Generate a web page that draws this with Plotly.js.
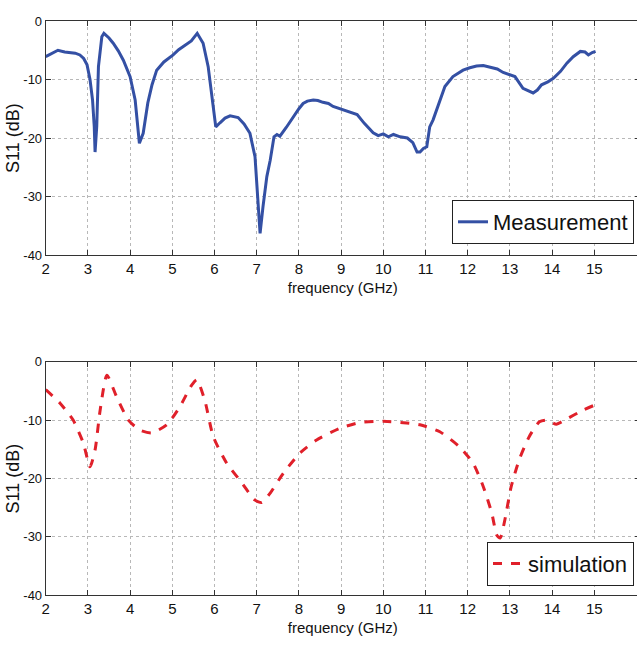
<!DOCTYPE html>
<html><head><meta charset="utf-8">
<script src="https://cdn.plot.ly/plotly-3.0.1.min.js"></script>
<style>html,body{margin:0;padding:0;overflow:hidden;background:#fff}</style>
</head><body><div id="chart" style="width:640px;height:645px"></div>
<script>
const measFreq = [2.0,2.15,2.29,2.45,2.58,2.7,2.81,2.9,2.98,3.05,3.11,3.15,3.17,3.19,3.21,3.25,3.33,3.38,3.5,3.6,3.72,3.84,4.0,4.12,4.22,4.31,4.42,4.52,4.63,4.8,5.02,5.15,5.3,5.45,5.59,5.73,5.85,5.97,6.03,6.13,6.25,6.37,6.47,6.56,6.7,6.84,6.96,7.03,7.08,7.15,7.24,7.32,7.41,7.48,7.55,7.7,7.86,8.0,8.1,8.2,8.34,8.45,8.57,8.7,8.81,9.0,9.14,9.25,9.38,9.55,9.76,9.88,10.0,10.12,10.24,10.4,10.57,10.7,10.8,10.87,10.95,11.03,11.1,11.18,11.34,11.46,11.65,11.89,12.05,12.21,12.37,12.53,12.7,12.84,13.0,13.12,13.31,13.45,13.55,13.65,13.75,13.9,14.03,14.2,14.35,14.5,14.67,14.78,14.86,14.95,15.03];
const measS11 = [-6.1,-5.6,-5.0,-5.3,-5.4,-5.5,-5.8,-6.4,-7.5,-10.0,-13.5,-18.0,-22.4,-20.5,-18.0,-7.8,-2.7,-2.1,-2.9,-3.8,-5.1,-6.7,-9.5,-13.5,-20.9,-19.2,-14.0,-10.9,-8.4,-7.0,-5.8,-4.9,-4.1,-3.4,-2.1,-3.8,-7.8,-15.2,-18.1,-17.4,-16.6,-16.2,-16.3,-16.5,-17.6,-19.2,-23.2,-30.6,-36.3,-31.7,-26.6,-23.8,-19.8,-19.4,-19.7,-18.2,-16.4,-15.0,-14.1,-13.7,-13.5,-13.6,-13.9,-14.1,-14.6,-15.1,-15.5,-15.7,-16.0,-17.5,-19.1,-19.6,-19.3,-19.8,-19.4,-19.8,-20.0,-20.8,-22.4,-22.4,-21.8,-21.5,-18.1,-16.9,-13.5,-11.2,-9.5,-8.4,-8.0,-7.7,-7.6,-7.9,-8.2,-8.8,-9.2,-9.5,-11.5,-12.0,-12.3,-11.8,-10.9,-10.4,-9.8,-8.6,-7.2,-6.1,-5.2,-5.3,-5.8,-5.4,-5.2];
const simFreq = [2.0,2.34,2.65,2.89,3.05,3.17,3.29,3.45,3.68,3.96,4.23,4.51,4.87,5.18,5.46,5.58,5.77,5.97,6.29,6.6,6.96,7.12,7.32,7.63,8.03,8.42,8.97,9.45,10.0,10.55,10.87,11.34,11.81,12.13,12.37,12.57,12.69,12.77,12.88,13.03,13.22,13.46,13.7,13.86,14.1,14.3,14.73,15.02];
const simS11 = [-4.8,-7.1,-10.0,-13.9,-18.0,-15.1,-8.3,-2.3,-6.0,-10.0,-11.7,-12.2,-10.8,-7.7,-4.0,-3.1,-6.6,-12.8,-17.4,-20.3,-23.7,-24.1,-22.5,-19.1,-15.6,-13.4,-11.4,-10.4,-10.2,-10.5,-10.8,-12.0,-14.6,-17.4,-21.4,-25.9,-29.7,-30.2,-27.1,-21.4,-16.8,-12.8,-10.3,-10.0,-10.7,-10.0,-8.3,-7.4];
const xTickVals = [2,3,4,5,6,7,8,9,10,11,12,13,14,15];
const yTickVals = [0,-10,-20,-30,-40];
const yTickText = ['0','-10','-20','-30','-40'];
const seriesNames = ['Measurement','simulation'];
const xTitle = 'frequency (GHz)';
const yTitle = 'S11 (dB)';

const font = 'Liberation Sans, Arial, sans-serif';
const W = 640;
const left = 45.7 / W;
const xr = [2, 2 + (W - 45.7) / 42.2];

function xax(anchor) {
  return {
    anchor: anchor, domain: [left, 1], range: xr,
    tickvals: xTickVals, ticks: 'inside', ticklen: 5, tickcolor: '#333',
    showline: true, linecolor: '#333', linewidth: 1, mirror: 'allticks',
    showgrid: true, gridcolor: '#b8b8b8', griddash: 'dot', gridwidth: 1,
    zeroline: false,
    tickfont: {family: font, size: 15, color: '#111'},
    title: {text: xTitle, font: {family: font, size: 15, color: '#111'}, standoff: 6}
  };
}
function yax(anchor, dom) {
  return {
    anchor: anchor, domain: dom, range: [-40, 0],
    tickvals: yTickVals, ticktext: yTickText, ticks: 'inside', ticklen: 5, tickcolor: '#333',
    showline: true, linecolor: '#333', linewidth: 1, mirror: 'allticks',
    showgrid: true, gridcolor: '#b8b8b8', griddash: 'dot', gridwidth: 1,
    zeroline: false,
    tickfont: {family: font, size: 13, color: '#111'}
  };
}

const traces = [
  {x: measFreq, y: measS11, xaxis: 'x', yaxis: 'y', mode: 'lines', name: seriesNames[0],
   line: {color: '#3450a4', width: 3}, legend: 'legend'},
  {x: simFreq, y: simS11, xaxis: 'x2', yaxis: 'y2', mode: 'lines', name: seriesNames[1],
   line: {color: '#e0202a', width: 3, dash: 'dash', shape: 'spline', smoothing: 0.6}, legend: 'legend2'}
];

const legendBase = {
  xanchor: 'right', yanchor: 'top', x: 634 / W,
  bgcolor: '#fff', bordercolor: '#222', borderwidth: 1,
  font: {family: font, size: 22, color: '#111'},
  itemwidth: 30, tracegroupgap: 0
};

const dom1 = [1 - 255 / 645, 1 - 21 / 645];
const dom2 = [1 - 595.3 / 645, 1 - 361.7 / 645];

const layout = {
  width: W, height: 645,
  margin: {l: 0, r: 0, t: 0, b: 0},
  paper_bgcolor: '#fff', plot_bgcolor: '#fff',
  showlegend: true,
  xaxis: xax('y'),
  yaxis: yax('x', dom1),
  xaxis2: xax('y2'),
  yaxis2: yax('x2', dom2),
  legend: Object.assign({}, legendBase, {y: 1 - 200 / 645}),
  legend2: Object.assign({}, legendBase, {y: 1 - 541.7 / 645}),
  annotations: [dom1, dom2].map(d => ({
    text: yTitle, textangle: -90, showarrow: false,
    xref: 'paper', yref: 'paper', x: 13 / W, y: (d[0] + d[1]) / 2,
    xanchor: 'center', yanchor: 'middle',
    font: {family: font, size: 18, color: '#111'}
  }))
};

Plotly.newPlot('chart', traces, layout, {staticPlot: true, displayModeBar: false});
</script>
</body></html>
